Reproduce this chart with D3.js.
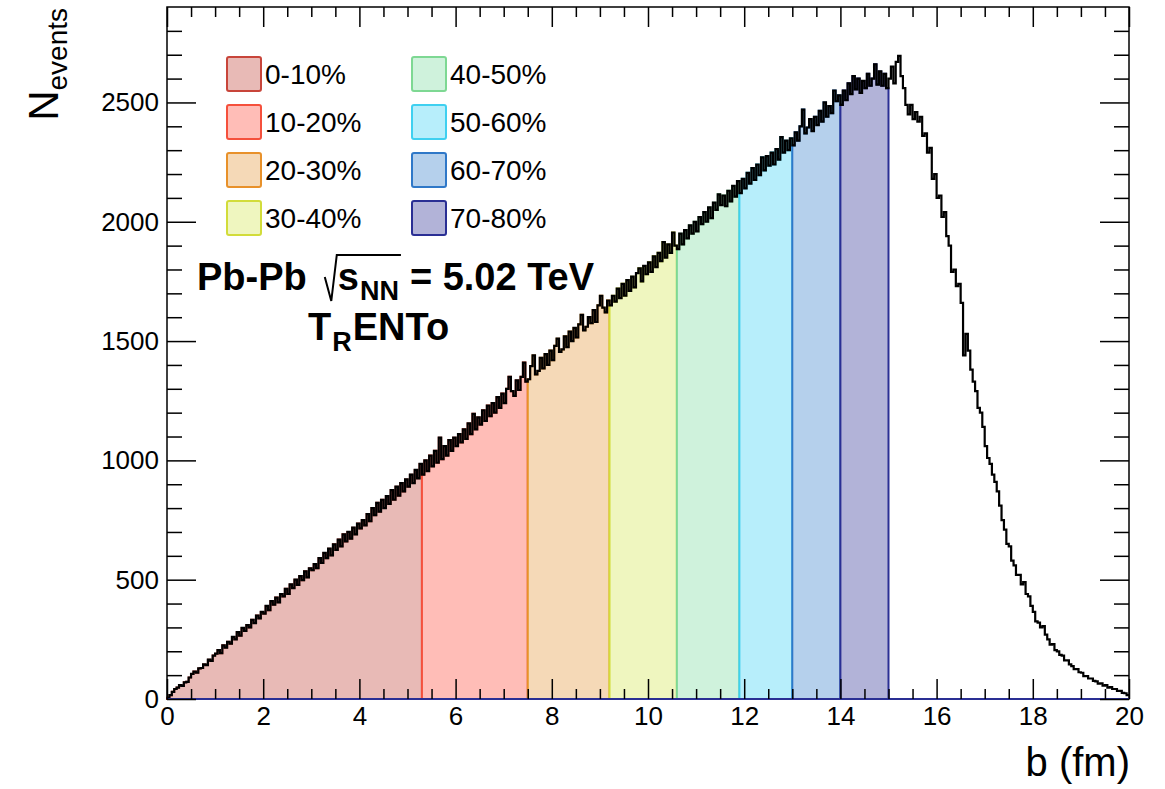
<!DOCTYPE html>
<html>
<head>
<meta charset="utf-8">
<script src="https://cdn.jsdelivr.net/npm/d3@7"></script>
<style>
  body { margin: 0; background: #fff; }
  text { font-family: "Liberation Sans", Arial, Helvetica, sans-serif; }
</style>
</head>
<body>
<svg id="chart" width="1165" height="789"></svg>
<script>
// impact parameter histogram, 0.05 fm bins from 0 to 20 fm (one row = 1 fm)
const binWidth = 0.05;
const counts = [
  5, 16, 30, 42, 48, 58, 55, 70, 72, 90, 105, 115, 110, 128, 130, 145, 142, 165, 160, 182,
  190, 205, 192, 225, 215, 240, 232, 260, 250, 280, 265, 298, 285, 310, 300, 332, 318, 350, 338, 365,
  358, 390, 372, 410, 395, 425, 405, 440, 430, 462, 440, 480, 465, 500, 478, 515, 498, 535, 510, 548,
  540, 565, 548, 590, 570, 612, 590, 630, 602, 648, 625, 668, 640, 690, 660, 700, 672, 718, 690, 735,
  715, 750, 728, 775, 745, 800, 770, 822, 785, 835, 800, 850, 818, 875, 835, 890, 852, 905, 870, 920,
  890, 940, 905, 960, 925, 985, 940, 1000, 955, 1020, 975, 1040, 990, 1095, 1005, 1060, 1020, 1085, 1040, 1095,
  1060, 1110, 1075, 1130, 1090, 1155, 1110, 1195, 1130, 1180, 1150, 1210, 1165, 1230, 1185, 1240, 1200, 1265, 1220, 1280,
  1240, 1300, 1350, 1290, 1270, 1335, 1295, 1350, 1410, 1330, 1340, 1395, 1440, 1360, 1375, 1430, 1385, 1445, 1400, 1460,
  1420, 1480, 1510, 1455, 1465, 1520, 1475, 1540, 1500, 1555, 1515, 1570, 1610, 1545, 1560, 1600, 1575, 1630, 1580, 1650,
  1690, 1640, 1620, 1670, 1650, 1690, 1665, 1720, 1680, 1740, 1690, 1755, 1710, 1770, 1725, 1785, 1805, 1750, 1815, 1780,
  1830, 1790, 1855, 1810, 1870, 1835, 1915, 1850, 1905, 1870, 1955, 1900, 1885, 1950, 1905, 1965, 1930, 1985, 1950, 2000,
  1960, 2020, 1990, 2040, 2000, 2060, 2015, 2080, 2050, 2115, 2070, 2110, 2065, 2130, 2085, 2150, 2105, 2170, 2120, 2180,
  2140, 2205, 2160, 2225, 2175, 2240, 2195, 2270, 2215, 2275, 2235, 2290, 2240, 2305, 2260, 2355, 2290, 2340, 2300, 2350,
  2320, 2375, 2340, 2400, 2470, 2370, 2395, 2430, 2380, 2440, 2405, 2465, 2420, 2500, 2440, 2485, 2455, 2550, 2505, 2530,
  2490, 2550, 2510, 2580, 2535, 2610, 2555, 2600, 2540, 2590, 2560, 2620, 2570, 2600, 2660, 2575, 2630, 2570, 2620, 2560,
  2600, 2650, 2580, 2670, 2695, 2610, 2560, 2490, 2450, 2490, 2430, 2460, 2420, 2440, 2360, 2370, 2290, 2310, 2180, 2200,
  2100, 2110, 2020, 2040, 1940, 1900, 1790, 1800, 1730, 1740, 1660, 1440, 1530, 1460, 1380, 1330, 1290, 1220, 1200, 1140,
  1060, 1010, 985, 940, 910, 870, 810, 750, 710, 650, 640, 580, 560, 520, 520, 480, 490, 440, 430, 390,
  365, 325, 320, 300, 305, 270, 250, 228, 230, 205, 200, 185, 182, 162, 162, 145, 138, 125, 125, 112,
  110, 96, 96, 86, 86, 76, 74, 64, 66, 56, 58, 48, 50, 42, 42, 34, 34, 26, 24, 16
];

// centrality classes and their b edges (fm)
const classes = ["0-10%", "10-20%", "20-30%", "30-40%", "40-50%", "50-60%", "60-70%", "70-80%"];
const classEdges = [0, 5.3, 7.5, 9.2, 10.6, 11.9, 13.0, 14.0, 15.0];
const fills = ["#e8bab6", "#ffbdb7", "#f5d9b7", "#eff6bf", "#cff2dc", "#b7eefb", "#b5d0ec", "#b2b3d8"];
const strokes = ["#c8453a", "#f5503c", "#e8912a", "#d2dc3a", "#7ed893", "#3fd0f0", "#2f78c8", "#2a2f94"];

const xMajor = [0, 2, 4, 6, 8, 10, 12, 14, 16, 18, 20];
const yMajor = [0, 500, 1000, 1500, 2000, 2500];

const margin = { top: 7, right: 36, bottom: 90, left: 167 };
const width = 962;
const height = 692;

const svg = d3.select("#chart")
  .append("g")
  .attr("transform", "translate(" + margin.left + "," + margin.top + ")");

const x = d3.scaleLinear().domain([0, 20]).range([0, width]);
const y = d3.scaleLinear().domain([0, 2900]).range([height, 0]);

const bins = counts.map((c, i) => ({ x0: i * binWidth, x1: (i + 1) * binWidth, c }));

function stepPoints(list) {
  let pts = [];
  list.forEach(b => { pts.push([b.x0, b.c]); pts.push([b.x1, b.c]); });
  return pts;
}

// filled centrality slices
const area = d3.area()
  .x(d => x(d[0]))
  .y0(y(0))
  .y1(d => y(d[1]));

for (let k = 0; k < classes.length; k++) {
  let i0 = Math.round(classEdges[k] / binWidth);
  let i1 = Math.round(classEdges[k + 1] / binWidth);
  svg.append("path")
    .attr("d", area(stepPoints(bins.slice(i0, i1))))
    .attr("fill", fills[k])
    .attr("stroke", strokes[k])
    .attr("stroke-width", 2);
}

// full histogram
const line = d3.line()
  .x(d => x(d[0]))
  .y(d => y(d[1]));

svg.append("path")
  .attr("d", line(stepPoints(bins)))
  .attr("fill", "none")
  .attr("stroke", "#000")
  .attr("stroke-width", 2.2);

// frame
svg.append("rect")
  .attr("width", width)
  .attr("height", height)
  .attr("fill", "none")
  .attr("stroke", "#000")
  .attr("stroke-width", 1.5);

svg.append("line")
  .attr("x1", x(0)).attr("x2", x(20))
  .attr("y1", y(0)).attr("y2", y(0))
  .attr("stroke", "#2a2f94")
  .attr("stroke-width", 2);

// ticks (ROOT style, inside the frame, on all four sides)
const xMinor = d3.range(0, 20.001, 0.5).filter(v => Math.abs(v / 2 - Math.round(v / 2)) > 1e-6);
const yMinor = d3.range(0, 2900, 100).filter(v => v % 500 !== 0);

function styleAxis(g) {
  g.select(".domain").remove();
  g.selectAll(".tick line").attr("stroke", "#000").attr("stroke-width", 1.5);
  g.selectAll("text").attr("font-size", 26).attr("fill", "#000")
    .attr("font-family", '"Liberation Sans", Arial, Helvetica, sans-serif');
}

svg.append("g").attr("transform", "translate(0," + height + ")")
  .call(d3.axisBottom(x).tickValues(xMajor).tickSize(-20).tickPadding(8).tickFormat(d3.format("d")))
  .call(styleAxis);
svg.append("g").attr("transform", "translate(0," + height + ")")
  .call(d3.axisBottom(x).tickValues(xMinor).tickSize(-10).tickFormat(""))
  .call(styleAxis);
svg.append("g")
  .call(d3.axisTop(x).tickValues(xMajor).tickSize(-20).tickFormat(""))
  .call(styleAxis);
svg.append("g")
  .call(d3.axisTop(x).tickValues(xMinor).tickSize(-10).tickFormat(""))
  .call(styleAxis);

svg.append("g")
  .call(d3.axisLeft(y).tickValues(yMajor).tickSize(-29).tickPadding(8).tickFormat(d3.format("d")))
  .call(styleAxis);
svg.append("g")
  .call(d3.axisLeft(y).tickValues(yMinor).tickSize(-15).tickFormat(""))
  .call(styleAxis);
svg.append("g").attr("transform", "translate(" + width + ",0)")
  .call(d3.axisRight(y).tickValues(yMajor).tickSize(-29).tickFormat(""))
  .call(styleAxis);
svg.append("g").attr("transform", "translate(" + width + ",0)")
  .call(d3.axisRight(y).tickValues(yMinor).tickSize(-15).tickFormat(""))
  .call(styleAxis);

// axis titles
const root = d3.select("#chart");
root.append("text")
  .attr("text-anchor", "end")
  .attr("font-size", 40)
  .attr("transform", "translate(1130,776)")
  .text("b (fm)");

const yTitle = root.append("text")
  .attr("text-anchor", "end")
  .attr("transform", "translate(58,8) rotate(-90)");
yTitle.append("tspan").attr("font-size", 42).text("N");
yTitle.append("tspan").attr("font-size", 28).attr("dy", 9).text("events");

// legend
const legend = root.selectAll(".legend")
  .data(classes)
  .enter().append("g")
  .attr("class", "legend")
  .attr("transform", (d, i) => {
    let col = Math.floor(i / 4);
    let row = i % 4;
    return "translate(" + (227 + col * 185) + "," + (57 + row * 48) + ")";
  });

legend.append("rect")
  .attr("width", 34)
  .attr("height", 34)
  .attr("rx", 2)
  .attr("fill", (d, i) => fills[i])
  .attr("stroke", (d, i) => strokes[i])
  .attr("stroke-width", 2);

legend.append("text")
  .attr("x", 38)
  .attr("y", 17)
  .attr("dy", "0.35em")
  .attr("font-size", 28)
  .text(d => d);

// collision label
function put(txt, xx, yy, size) {
  let t = root.append("text")
    .attr("x", xx).attr("y", yy)
    .attr("font-size", size)
    .attr("font-weight", "bold")
    .text(txt);
  return xx + t.node().getComputedTextLength();
}

let base = 290;
let cx = put("Pb-Pb", 197, base, 38);
let radX = cx + 18;
cx = put("s", radX + 13, base, 38);
cx = put("NN", cx + 1, base + 10, 27);
root.append("path")
  .attr("d", "M" + radX + "," + (base - 13) +
    "L" + (radX + 6.5) + "," + (base + 11) +
    "L" + (radX + 12) + "," + (base - 35) +
    "H" + (cx + 2))
  .attr("fill", "none")
  .attr("stroke", "#000")
  .attr("stroke-width", 2);
put("= 5.02 TeV", cx + 11, base, 38);

let base2 = 340;
cx = put("T", 308, base2, 38);
cx = put("R", cx + 1, base2 + 11, 27);
put("ENTo", cx + 1, base2, 38);
</script>
</body>
</html>
